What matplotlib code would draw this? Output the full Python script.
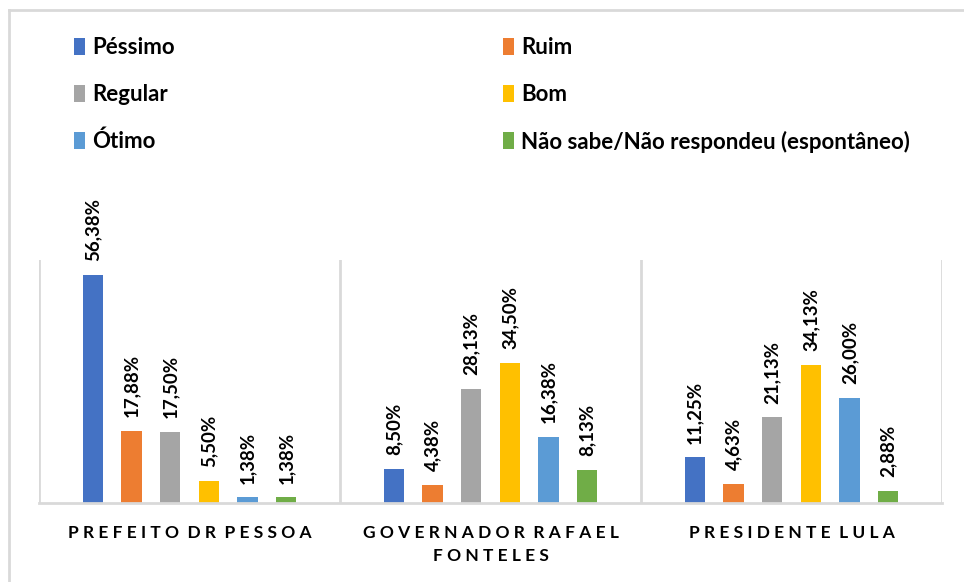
import matplotlib
matplotlib.use('Agg')
import matplotlib.pyplot as plt
import numpy as np
from matplotlib.lines import Line2D
from matplotlib.patches import Patch

plt.rcParams['font.family'] = ['Lato', 'DejaVu Sans']
plt.rcParams['font.weight'] = 'bold'

groups = ['PREFEITO DR PESSOA', 'GOVERNADOR RAFAEL\nFONTELES', 'PRESIDENTE LULA']
series = ['Péssimo', 'Ruim', 'Regular', 'Bom', 'Ótimo', 'Não sabe/Não respondeu (espontâneo)']
values = [
    [56.38, 8.50, 11.25],
    [17.88, 4.38, 4.63],
    [17.50, 28.13, 21.13],
    [5.50, 34.50, 34.13],
    [1.38, 16.38, 26.00],
    [1.38, 8.13, 2.88],
]
colors = ['#4472C4', '#ED7D31', '#A5A5A5', '#FFC000', '#5B9BD5', '#70AD47']
grid_color = '#D9D9D9'


def spaced(label):
    # fake letter spacing, Excel style
    return '\n'.join('  '.join(' '.join(w) for w in line.split(' '))
                     for line in label.split('\n'))


fig = plt.figure(figsize=(9.64, 5.82), dpi=100)
ax = fig.add_axes([39 / 964, 1 - 503 / 582, (942 - 39) / 964, (503 - 260) / 582])

x = np.arange(len(groups))
step = 0.1286
width = 0.067
for i, (name, vals, col) in enumerate(zip(series, values, colors)):
    pos = x + (i - 2.5) * step
    bars = ax.bar(pos, vals, width, color=col, label=name, zorder=2)
    for b, v in zip(bars, vals):
        ax.annotate(f'{v:.2f}%'.replace('.', ','),
                    (b.get_x() + b.get_width() / 2, b.get_height()),
                    xytext=(0, 10), textcoords='offset points',
                    rotation=90, ha='center', va='bottom',
                    fontsize=13.5, fontweight='bold', color='#000000')

ax.set_xlim(-0.5, 2.5)
ax.set_ylim(0, 60)
ax.set_yticks([])
ax.set_xticks(x)
ax.set_xticklabels([spaced(g) for g in groups], fontsize=12.5, fontweight='bold',
                   linespacing=1.5, va='top')
ax.tick_params(axis='x', length=0, pad=16)
for s in ['top', 'left', 'right']:
    ax.spines[s].set_visible(False)
ax.spines['bottom'].set_color(grid_color)
ax.spines['bottom'].set_linewidth(2)
for xv in [-0.5, 0.5, 1.5, 2.5]:
    ax.axvline(xv, color=grid_color, linewidth=2, zorder=1)

# legend in two columns placed like the original
handles = [Patch(facecolor=c) for c in colors]
left = [0, 2, 4]
right = [1, 3, 5]
for idx, xpos in [(left, 74 / 964), (right, 503 / 964)]:
    leg = fig.legend([handles[i] for i in idx], [series[i] for i in idx],
                     loc='upper left', bbox_to_anchor=(xpos, 1 - 37 / 582),
                     frameon=False, fontsize=16, handlelength=0.5, handleheight=0.8,
                     handletextpad=0.3, labelspacing=1.16, borderpad=0, borderaxespad=0)
    for t in leg.get_texts():
        t.set_fontweight('bold')

# outer chart frame
fig.add_artist(Line2D([9 / 964, 1.0], [1 - 10 / 582, 1 - 10 / 582], color=grid_color, linewidth=2))
fig.add_artist(Line2D([9 / 964, 9 / 964], [0, 1 - 10 / 582], color=grid_color, linewidth=2))

fig.savefig('out.png', dpi=100)
